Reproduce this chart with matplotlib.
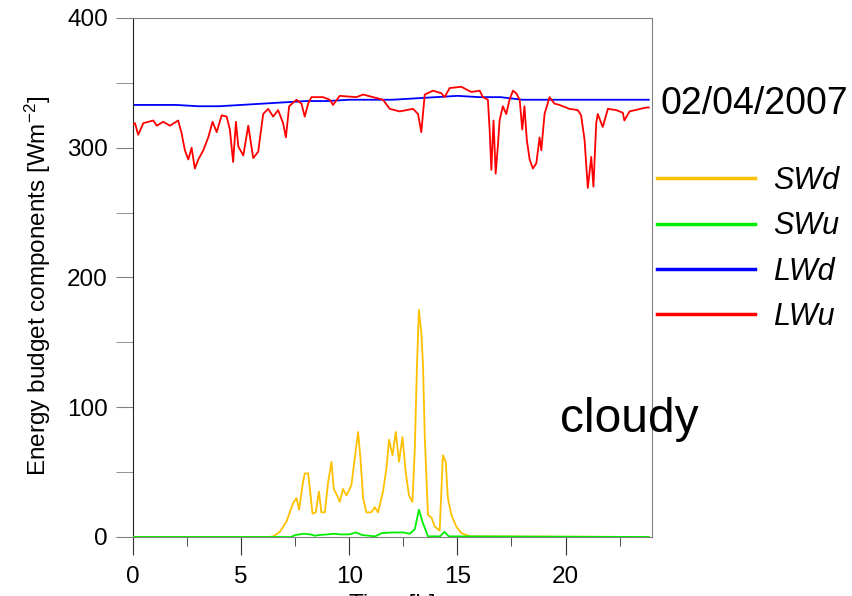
import matplotlib
matplotlib.use('Agg')
import matplotlib.pyplot as plt
from matplotlib.ticker import MultipleLocator

plt.rcParams['font.family'] = ['Liberation Sans', 'DejaVu Sans']
plt.rcParams['mathtext.fontset'] = 'custom'
plt.rcParams['mathtext.rm'] = 'Liberation Sans'
plt.rcParams['mathtext.it'] = 'Liberation Sans:italic'

# values (time in hours, W/m2)
t_swd = [0, 6.3, 6.48, 6.79, 7.1, 7.4, 7.56, 7.68, 7.84, 7.94, 8.1, 8.18, 8.3, 8.45, 8.6,
         8.71, 8.87, 9.02, 9.18, 9.28, 9.44, 9.56, 9.71, 9.87, 10.1, 10.25, 10.41, 10.52,
         10.64, 10.79, 11.02, 11.18, 11.33, 11.56, 11.72, 11.84, 12.0, 12.15, 12.3, 12.46,
         12.61, 12.76, 12.92, 13.03, 13.13, 13.22, 13.33, 13.41, 13.49, 13.64, 13.8, 13.95,
         14.18, 14.33, 14.46, 14.56, 14.72, 14.95, 15.18, 15.57, 23.85]
swd = [0, 0, 0.5, 4, 12, 26, 30, 21, 40, 49, 49, 37, 18, 19, 35,
       19, 19, 42, 58, 37, 32, 27, 37, 32, 40, 60, 81, 60,
       30, 19, 19, 23, 19, 35, 53, 75, 63, 81, 58, 77,
       50, 32, 27, 68, 132, 175, 158, 132, 78, 17, 15, 8,
       5, 63, 58, 30, 17, 8, 3, 0.5, 0]

t_swu = [0, 7.3, 7.5, 7.9, 8.2, 8.4, 8.6, 9.0, 9.3, 9.6, 10.0, 10.3, 10.6, 11.2, 11.5,
         12.0, 12.5, 12.8, 13.03, 13.22, 13.4, 13.64, 14.2, 14.4, 14.6, 23.85]
swu = [0, 0, 1.5, 2.5, 2, 1, 1.5, 2, 2.5, 2, 2, 3.5, 1.5, 0.5, 3,
       3.5, 3.5, 2.5, 6, 21, 11, 0.5, 0.5, 4, 0.5, 0]

t_lwd = [0, 1, 2, 3, 4, 5, 6, 7, 8, 9, 10, 11, 12, 13, 14, 15, 16, 17, 18, 19, 20, 21,
         22, 23, 23.85]
lwd = [333, 333, 333, 332, 332, 333, 334, 335, 336, 336, 337, 337, 337, 338, 339, 340,
       339, 339, 337, 337, 337, 337, 337, 337, 337]

t_lwu = [0.0, 0.09, 0.24, 0.48, 0.94, 1.1, 1.4, 1.71, 2.09, 2.25, 2.4, 2.56, 2.71, 2.86,
         3.02, 3.25, 3.48, 3.68, 3.87, 4.1, 4.33, 4.48, 4.63, 4.76, 4.87, 5.1, 5.33, 5.56,
         5.79, 6.02, 6.25, 6.48, 6.71, 6.94, 7.07, 7.22, 7.56, 7.79, 7.94, 8.1, 8.25, 8.79,
         9.1, 9.25, 9.56, 10.33, 10.64, 11.1, 11.56, 11.87, 12.33, 12.64, 12.95, 13.18,
         13.33, 13.49, 13.87, 14.26, 14.41, 14.64, 15.18, 15.64, 16.03, 16.18, 16.41,
         16.49, 16.57, 16.67, 16.77, 16.87, 16.95, 17.1, 17.26, 17.41, 17.57, 17.72,
         17.88, 18.0, 18.1, 18.21, 18.34, 18.49, 18.65, 18.8, 18.88, 19.03, 19.26, 19.49,
         19.72, 20.18, 20.57, 20.72, 20.88, 21.03, 21.19, 21.29, 21.42, 21.49, 21.72,
         21.96, 22.34, 22.65, 22.72, 22.96, 23.73, 23.85]
lwu = [318, 319, 310, 319, 321, 317, 320, 317, 321, 311, 298, 291, 300, 284,
       291, 298, 308, 320, 312, 325, 324, 314, 289, 320, 301, 294, 317, 292,
       297, 326, 330, 324, 329, 319, 308, 332, 337, 334, 324, 334, 339, 339,
       337, 333, 340, 339, 341, 339, 337, 330, 328, 329, 330, 326,
       312, 341, 344, 342, 339, 346, 347, 343, 344, 339, 337,
       314, 283, 321, 280, 301, 321, 332, 326, 337, 344, 342,
       337, 314, 332, 306, 291, 284, 288, 308, 298, 326, 339, 334,
       333, 330, 329, 325, 306, 269, 293, 270, 319, 326, 316,
       330, 329, 327, 321, 328, 331, 331]

fig = plt.figure(figsize=(8.52, 5.96), dpi=100)
ax = fig.add_axes([0.1561, 0.099, 0.6092, 0.8708])

ax.plot(t_swd, swd, color='#FFC000', lw=1.3, label='SWd', zorder=2)
ax.plot(t_swu, swu, color='#00EE00', lw=1.3, label='SWu', zorder=4)
ax.plot(t_lwd, lwd, color='#0000FF', lw=1.3, label='LWd', zorder=2)
ax.plot(t_lwu, lwu, color='#FF0000', lw=1.3, label='LWu', zorder=3)

ax.set_xlim(0, 24)
ax.set_ylim(0, 400)
ax.xaxis.set_major_locator(MultipleLocator(5))
ax.xaxis.set_minor_locator(MultipleLocator(2.5))
ax.yaxis.set_major_locator(MultipleLocator(100))
ax.yaxis.set_minor_locator(MultipleLocator(50))

for s in ['top', 'right', 'bottom']:
    ax.spines[s].set_color('#808080')
ax.spines['left'].set_color('#222222')

ax.tick_params(axis='x', which='major', length=13, pad=8, color='#333333', labelsize=17.5)
ax.tick_params(axis='x', which='minor', length=6.5, color='#333333')
ax.tick_params(axis='y', which='both', length=12, pad=6, color='#808080', labelsize=17.5)

fig.text(0.045, 0.52, 'Energy budget components [Wm$^{-2}$]', rotation=90,
         ha='center', va='center', fontsize=17.5)
# x label sits mostly below the bottom edge, as in the reference
fig.text(0.46, 0.004, 'Time [h]', ha='center', va='top', fontsize=17.5)

fig.text(0.775, 0.826, '02/04/2007', fontsize=27, ha='left', va='center')
fig.text(0.657, 0.296, 'cloudy', fontsize=34.5, ha='left', va='center')

ax.legend(loc='upper left', bbox_to_anchor=(0.757, 0.742), bbox_transform=fig.transFigure,
          frameon=False, handlelength=3.2, handletextpad=0.59, labelspacing=0.5,
          prop={'style': 'italic', 'size': 22}, borderaxespad=0)
for line in ax.get_legend().get_lines():
    line.set_linewidth(2.5)

fig.savefig('out.png', dpi=100)
